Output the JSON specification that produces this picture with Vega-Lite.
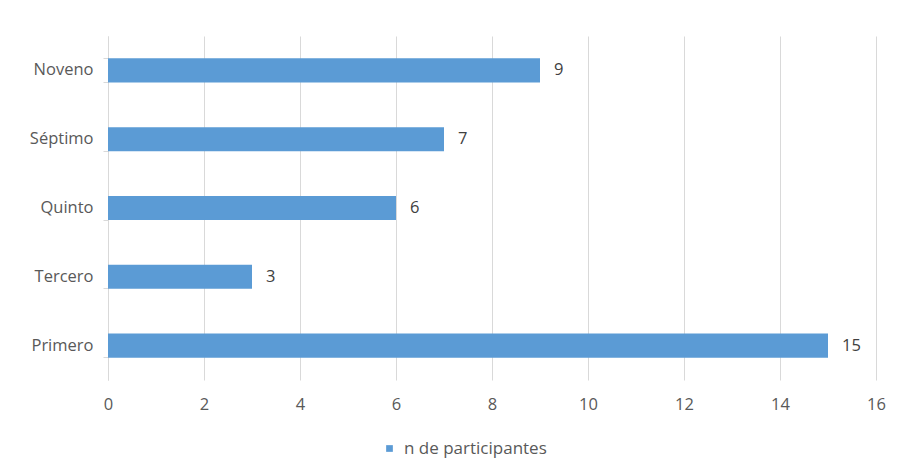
{
  "$schema": "https://vega.github.io/schema/vega-lite/v6.json",
  "autosize": {"type": "none"},
  "width": 768,
  "height": 344,
  "padding": {"left": 108, "top": 36, "right": 24, "bottom": 96},
  "background": "white",
  "data": {
    "values": [
      {"grado": "Noveno", "n": 9, "serie": "n de participantes"},
      {"grado": "Séptimo", "n": 7, "serie": "n de participantes"},
      {"grado": "Quinto", "n": 6, "serie": "n de participantes"},
      {"grado": "Tercero", "n": 3, "serie": "n de participantes"},
      {"grado": "Primero", "n": 15, "serie": "n de participantes"}
    ]
  },
  "config": {
    "view": {"stroke": null},
    "font": "Open Sans"
  },
  "encoding": {
    "y": {
      "field": "grado",
      "type": "nominal",
      "sort": ["Noveno", "Séptimo", "Quinto", "Tercero", "Primero"],
      "scale": {"paddingInner": 0.65, "paddingOuter": 0.325},
      "axis": {
        "title": null,
        "bandPosition": 1,
        "tickExtra": true,
        "ticks": true,
        "tickSize": 5,
        "tickColor": "#d9d9d9",
        "domainColor": "#d9d9d9",
        "labelColor": "#595959",
        "labelFontSize": 16.5,
        "labelFont": "Open Sans",
        "labelPadding": 10,
        "grid": false
      }
    },
    "x": {
      "field": "n",
      "type": "quantitative",
      "scale": {"domain": [0, 16]},
      "axis": {
        "title": null,
        "values": [0, 2, 4, 6, 8, 10, 12, 14, 16],
        "domain": false,
        "ticks": false,
        "grid": true,
        "gridColor": "#d9d9d9",
        "labelFlush": false,
        "labelColor": "#595959",
        "labelFontSize": 16.5,
        "labelFont": "Open Sans",
        "labelPadding": 16
      }
    }
  },
  "layer": [
    {
      "mark": {"type": "bar"},
      "encoding": {
        "color": {
          "field": "serie",
          "type": "nominal",
          "scale": {"range": ["#5b9bd5"]},
          "legend": {
            "title": null,
            "orient": "none",
            "legendX": 273,
            "legendY": 404,
            "symbolType": "square",
            "symbolSize": 45,
            "labelFontSize": 17,
            "labelFont": "Open Sans",
            "labelColor": "#595959",
            "labelOffset": 6
          }
        }
      }
    },
    {
      "mark": {"type": "text", "align": "left", "dx": 14, "fontSize": 16.5, "font": "Open Sans", "color": "#404040"},
      "encoding": {"text": {"field": "n", "type": "quantitative"}}
    }
  ]
}
